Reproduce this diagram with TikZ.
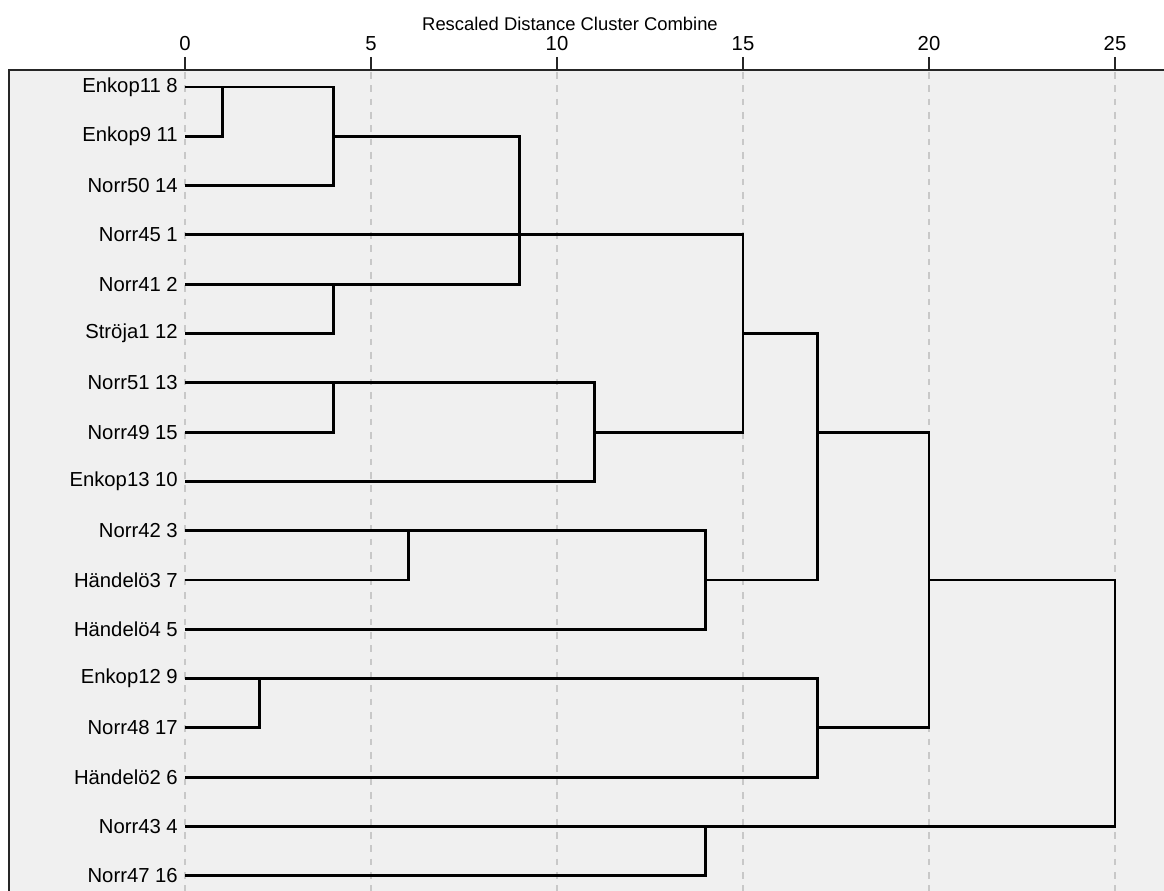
\documentclass[tikz,border=0pt]{standalone}
\usepackage{fontspec}
\setmainfont{Liberation Sans}
\usetikzlibrary{positioning}
\definecolor{panel}{HTML}{F0F0F0}
\definecolor{gridgray}{HTML}{C8C8C8}

\begin{document}
\begin{tikzpicture}[
  x=0.75pt, y=-0.75pt,
  lbl/.style={anchor=east, inner sep=0pt, font=\fontsize{15.2}{17}\selectfont},
  num/.style={inner sep=0pt, font=\fontsize{15.2}{17}\selectfont},
  link/.style={line width=2.2pt},
  gridline/.style={draw=gridgray, line width=1pt, dash pattern=on 5pt off 5pt},
  frame/.style={line width=1.5pt, draw=black!85},
]
  \useasboundingbox (0,0) rectangle (1164,891);
  \fill[panel] (9,70) rectangle (1164,891);
  % scale: grid, ticks, values
  \foreach \v in {0,5,...,25} {
    \draw[gridline] ({185+37.2*\v},72) -- ({185+37.2*\v},891);
    \draw[frame] ({185+37.2*\v},57) -- ({185+37.2*\v},70);
    \node[num] (v\v) at ({185+37.2*\v},44) {\v};
  }
  \draw[frame] (9,891) -- (9,70) -- (1164,70);
  \node[num, font=\fontsize{13.8}{16}\selectfont] (title) at (570,24) {Rescaled Distance Cluster Combine};

  % leaves
  \foreach \lab [count=\i] in {Enkop11 8, Enkop9 11, Norr50 14, Norr45 1, Norr41 2,
      Ströja1 12, Norr51 13, Norr49 15, Enkop13 10, Norr42 3, Händelö3 7, Händelö4 5,
      Enkop12 9, Norr48 17, Händelö2 6, Norr43 4, Norr47 16} {
    \coordinate (l\i) at (185,{87+49.3*(\i-1)});
    \node[lbl] (t\i) at (178,{87+49.3*(\i-1)}) {\lab};
  }

  % merge points
  \coordinate (m1) at (222.2,0 |- l1);
  \coordinate (m2) at (333.8,0 |- l2);
  \coordinate (m3) at (333.8,0 |- l5);
  \coordinate (m4) at (519.8,0 |- l4);
  \coordinate (m5) at (333.8,0 |- l7);
  \coordinate (m6) at (594.2,0 |- l8);
  \coordinate (m7) at (743,0 |- l6);
  \coordinate (m8) at (408.2,0 |- l10);
  \coordinate (m9) at (705.8,0 |- l11);
  \coordinate (m10) at (817.4,0 |- l8);
  \coordinate (m11) at (259.4,0 |- l13);
  \coordinate (m12) at (817.4,0 |- l14);
  \coordinate (m13) at (929,0 |- l11);
  \coordinate (m14) at (705.8,0 |- l16);
  \coordinate (m15) at (1115,0 |- l11);

  % tree
  \draw[link] (l1) -| (m1) |- (l2);
  \draw[link] (m1) -| (m2) |- (l3);
  \draw[link] (l5) -| (m3) |- (l6);
  \draw[link] (m2) -| (m4) |- (m3);
  \draw[link] (l4) -- (m4);
  \draw[link] (l7) -| (m5) |- (l8);
  \draw[link] (m5) -| (m6) |- (l9);
  \draw[link] (m4) -| (m7) |- (m6);
  \draw[link] (l10) -| (m8) |- (l11);
  \draw[link] (m8) -| (m9) |- (l12);
  \draw[link] (m7) -| (m10) |- (m9);
  \draw[link] (l13) -| (m11) |- (l14);
  \draw[link] (m11) -| (m12) |- (l15);
  \draw[link] (m10) -| (m13) |- (m12);
  \draw[link] (l16) -| (m14) |- (l17);
  \draw[link] (m13) -| (m15) |- (m14);
\end{tikzpicture}
\end{document}
